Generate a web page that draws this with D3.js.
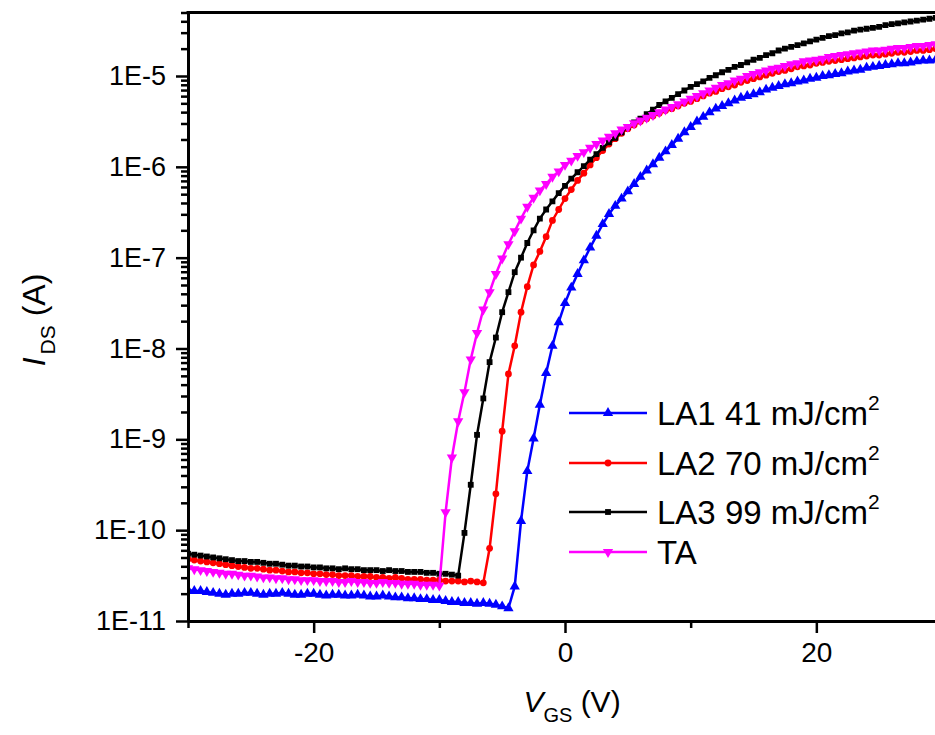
<!DOCTYPE html>
<html>
<head>
<meta charset="utf-8">
<script src="https://cdn.jsdelivr.net/npm/d3@7"></script>
<style>
  body { margin: 0; background: #fff; }
  svg text { font-family: Arial, "Liberation Sans", sans-serif; fill: #000; }
</style>
</head>
<body>
<svg width="935" height="735"></svg>
<script>
/// data: transfer curves, I_DS (A) vs V_GS (V)
var vgs = [-30,-29.5,-29,-28.5,-28,-27.5,-27,-26.5,-26,-25.5,
  -25,-24.5,-24,-23.5,-23,-22.5,-22,-21.5,-21,-20.5,
  -20,-19.5,-19,-18.5,-18,-17.5,-17,-16.5,-16,-15.5,
  -15,-14.5,-14,-13.5,-13,-12.5,-12,-11.5,-11,-10.5,
  -10,-9.5,-9,-8.5,-8,-7.5,-7,-6.5,-6,-5.5,
  -5,-4.5,-4,-3.5,-3,-2.5,-2,-1.5,-1,-0.5,
  0,0.5,1,1.5,2,2.5,3,3.5,4,4.5,
  5,5.5,6,6.5,7,7.5,8,8.5,9,9.5,
  10,10.5,11,11.5,12,12.5,13,13.5,14,14.5,
  15,15.5,16,16.5,17,17.5,18,18.5,19,19.5,
  20,20.5,21,21.5,22,22.5,23,23.5,24,24.5,
  25,25.5,26,26.5,27,27.5,28,28.5,29,29.5,
  30];

var la1 = [2.19e-11,2.14e-11,2.14e-11,2.09e-11,2.04e-11,2.00e-11,1.95e-11,2.00e-11,2.00e-11,2.04e-11,
  2.04e-11,2.00e-11,1.95e-11,2.00e-11,2.00e-11,2.04e-11,2.00e-11,1.95e-11,1.95e-11,2.00e-11,
  2.00e-11,1.95e-11,1.91e-11,1.95e-11,1.95e-11,1.91e-11,1.91e-11,1.95e-11,1.91e-11,1.86e-11,
  1.86e-11,1.91e-11,1.86e-11,1.82e-11,1.82e-11,1.78e-11,1.78e-11,1.74e-11,1.74e-11,1.70e-11,
  1.70e-11,1.66e-11,1.62e-11,1.62e-11,1.58e-11,1.58e-11,1.55e-11,1.58e-11,1.55e-11,1.51e-11,
  1.45e-11,1.38e-11,2.40e-11,1.26e-10,4.47e-10,1.02e-9,2.40e-9,5.37e-9,1.07e-8,1.95e-8,
  3.16e-8,4.68e-8,6.61e-8,9.33e-8,1.29e-7,1.74e-7,2.34e-7,3.02e-7,3.72e-7,4.47e-7,
  5.37e-7,6.46e-7,7.76e-7,9.12e-7,1.07e-6,1.26e-6,1.48e-6,1.74e-6,2.04e-6,2.40e-6,
  2.75e-6,3.16e-6,3.55e-6,3.98e-6,4.37e-6,4.68e-6,5.01e-6,5.37e-6,5.75e-6,6.03e-6,
  6.31e-6,6.61e-6,7.08e-6,7.41e-6,7.76e-6,8.13e-6,8.32e-6,8.71e-6,8.91e-6,9.33e-6,
  9.55e-6,1.00e-5,1.02e-5,1.05e-5,1.07e-5,1.12e-5,1.15e-5,1.17e-5,1.23e-5,1.26e-5,
  1.29e-5,1.32e-5,1.35e-5,1.38e-5,1.38e-5,1.41e-5,1.45e-5,1.48e-5,1.48e-5,1.51e-5,
  1.55e-5];

var la2 = [4.79e-11,4.68e-11,4.57e-11,4.47e-11,4.37e-11,4.27e-11,4.17e-11,4.07e-11,3.98e-11,3.89e-11,
  3.80e-11,3.80e-11,3.72e-11,3.63e-11,3.63e-11,3.55e-11,3.47e-11,3.47e-11,3.39e-11,3.39e-11,
  3.31e-11,3.31e-11,3.24e-11,3.24e-11,3.16e-11,3.16e-11,3.16e-11,3.09e-11,3.09e-11,3.09e-11,
  3.02e-11,3.02e-11,2.95e-11,3.02e-11,2.95e-11,2.88e-11,2.88e-11,2.88e-11,2.82e-11,2.82e-11,
  2.82e-11,2.75e-11,2.75e-11,2.75e-11,2.69e-11,2.75e-11,2.69e-11,2.63e-11,6.31e-11,2.51e-10,
  1.23e-9,5.25e-9,1.07e-8,2.51e-8,4.79e-8,8.32e-8,1.17e-7,1.70e-7,2.57e-7,3.39e-7,
  4.47e-7,5.62e-7,7.08e-7,8.51e-7,1.05e-6,1.26e-6,1.51e-6,1.78e-6,2.04e-6,2.34e-6,
  2.63e-6,2.88e-6,3.16e-6,3.39e-6,3.63e-6,3.89e-6,4.17e-6,4.37e-6,4.68e-6,5.01e-6,
  5.25e-6,5.62e-6,6.03e-6,6.46e-6,6.76e-6,7.24e-6,7.59e-6,7.94e-6,8.51e-6,8.91e-6,
  9.33e-6,9.77e-6,1.02e-5,1.07e-5,1.12e-5,1.15e-5,1.20e-5,1.26e-5,1.29e-5,1.32e-5,
  1.38e-5,1.41e-5,1.45e-5,1.48e-5,1.51e-5,1.55e-5,1.58e-5,1.62e-5,1.66e-5,1.70e-5,
  1.70e-5,1.74e-5,1.78e-5,1.82e-5,1.82e-5,1.86e-5,1.91e-5,1.91e-5,1.95e-5,2.00e-5,
  2.00e-5];

var la3 = [5.50e-11,5.37e-11,5.25e-11,5.13e-11,5.01e-11,4.90e-11,4.79e-11,4.68e-11,4.57e-11,4.57e-11,
  4.47e-11,4.47e-11,4.37e-11,4.27e-11,4.27e-11,4.17e-11,4.07e-11,4.07e-11,3.98e-11,3.98e-11,
  3.89e-11,3.89e-11,3.80e-11,3.80e-11,3.72e-11,3.80e-11,3.72e-11,3.72e-11,3.63e-11,3.63e-11,
  3.63e-11,3.55e-11,3.63e-11,3.55e-11,3.55e-11,3.47e-11,3.47e-11,3.47e-11,3.39e-11,3.39e-11,
  3.31e-11,3.31e-11,3.24e-11,3.16e-11,9.33e-11,3.16e-10,1.12e-9,2.82e-9,7.08e-9,1.32e-8,
  2.51e-8,4.17e-8,6.92e-8,1.00e-7,1.45e-7,2.00e-7,2.69e-7,3.39e-7,4.17e-7,5.13e-7,
  6.17e-7,7.41e-7,8.71e-7,1.02e-6,1.20e-6,1.38e-6,1.62e-6,1.86e-6,2.09e-6,2.40e-6,
  2.75e-6,3.09e-6,3.39e-6,3.80e-6,4.27e-6,4.79e-6,5.25e-6,5.75e-6,6.31e-6,6.92e-6,
  7.59e-6,8.13e-6,8.71e-6,9.55e-6,1.02e-5,1.10e-5,1.17e-5,1.26e-5,1.32e-5,1.41e-5,
  1.51e-5,1.58e-5,1.70e-5,1.78e-5,1.91e-5,2.00e-5,2.09e-5,2.19e-5,2.29e-5,2.40e-5,
  2.51e-5,2.63e-5,2.75e-5,2.82e-5,2.95e-5,3.02e-5,3.16e-5,3.24e-5,3.31e-5,3.39e-5,
  3.47e-5,3.63e-5,3.72e-5,3.80e-5,3.89e-5,3.98e-5,4.07e-5,4.17e-5,4.27e-5,4.37e-5,
  4.47e-5];

var ta = [3.80e-11,3.72e-11,3.63e-11,3.55e-11,3.47e-11,3.39e-11,3.31e-11,3.31e-11,3.24e-11,3.16e-11,
  3.16e-11,3.09e-11,3.02e-11,3.02e-11,2.95e-11,2.95e-11,2.88e-11,2.88e-11,2.82e-11,2.82e-11,
  2.82e-11,2.75e-11,2.75e-11,2.75e-11,2.69e-11,2.69e-11,2.75e-11,2.69e-11,2.69e-11,2.63e-11,
  2.63e-11,2.69e-11,2.63e-11,2.63e-11,2.57e-11,2.57e-11,2.57e-11,2.51e-11,2.51e-11,2.51e-11,
  2.45e-11,1.58e-10,6.31e-10,1.58e-9,3.31e-9,7.59e-9,1.48e-8,2.69e-8,4.17e-8,6.61e-8,
  9.77e-8,1.41e-7,1.95e-7,2.69e-7,3.63e-7,4.57e-7,5.50e-7,6.46e-7,7.76e-7,8.91e-7,
  1.05e-6,1.17e-6,1.32e-6,1.45e-6,1.62e-6,1.78e-6,1.95e-6,2.14e-6,2.34e-6,2.57e-6,
  2.75e-6,3.02e-6,3.24e-6,3.47e-6,3.72e-6,3.98e-6,4.27e-6,4.57e-6,4.90e-6,5.25e-6,
  5.62e-6,6.03e-6,6.46e-6,6.92e-6,7.41e-6,7.94e-6,8.32e-6,8.91e-6,9.33e-6,1.00e-5,
  1.05e-5,1.10e-5,1.15e-5,1.20e-5,1.23e-5,1.29e-5,1.35e-5,1.38e-5,1.45e-5,1.48e-5,
  1.51e-5,1.55e-5,1.62e-5,1.66e-5,1.70e-5,1.74e-5,1.78e-5,1.82e-5,1.86e-5,1.91e-5,
  1.91e-5,1.95e-5,2.00e-5,2.04e-5,2.04e-5,2.09e-5,2.14e-5,2.14e-5,2.19e-5,2.24e-5,
  2.24e-5];

var seriesLabels = ["LA1 41 mJ/cm", "LA2 70 mJ/cm", "LA3 99 mJ/cm", "TA"];
var seriesSup = ["2", "2", "2", ""];
var yTicks = [1e-11, 1e-10, 1e-9, 1e-8, 1e-7, 1e-6, 1e-5];
var yTickLabels = ["1E-11", "1E-10", "1E-9", "1E-8", "1E-7", "1E-6", "1E-5"];
var xTicks = [-20, 0, 20];
var xTickLabels = ["-20", "0", "20"];
var xMinor = [-30, -10, 10, 30];

/// layout (plot box runs past the right edge of the picture, as in the original)
var plotLeft = 188, plotRight = 942, plotTop = 12.5, plotBottom = 621;
var svg = d3.select("svg");

var x = d3.scaleLinear().domain([-30, 30]).range([plotLeft, plotRight]);
var y = d3.scaleLog().domain([1e-11, 5e-5]).range([plotBottom, plotTop]);

// minor log ticks 2..9 in each decade
var yMinor = [];
yTicks.forEach(function(d) {
  for (var k = 2; k <= 9; k++) if (d * k <= 5e-5) yMinor.push(d * k);
});

svg.append("clipPath").attr("id", "plotclip")
  .append("rect").attr("x", plotLeft).attr("y", plotTop)
  .attr("width", plotRight - plotLeft).attr("height", plotBottom - plotTop);

/// series
var series = [
  { values: la1, color: "#0000ff", symbol: d3.symbolTriangle, size: 46, rot: 0 },
  { values: la2, color: "#ff0000", symbol: d3.symbolCircle, size: 36, rot: 0 },
  { values: la3, color: "#000000", symbol: d3.symbolSquare, size: 34, rot: 0 },
  { values: ta,  color: "#ff00ff", symbol: d3.symbolTriangle, size: 46, rot: 180 }
];

var line = d3.line()
  .x(function(d) { return x(d[0]); })
  .y(function(d) { return y(d[1]); });

var plot = svg.append("g").attr("clip-path", "url(#plotclip)");

series.forEach(function(s) {
  var pts = vgs.map(function(v, i) { return [v, s.values[i]]; });
  var g = plot.append("g");
  g.append("path")
    .datum(pts)
    .attr("d", line)
    .attr("fill", "none")
    .attr("stroke", s.color)
    .attr("stroke-width", 2.5);
  g.selectAll("path.mk")
      .data(pts)
    .enter().append("path")
      .attr("class", "mk")
      .attr("d", d3.symbol().type(s.symbol).size(s.size))
      .attr("transform", function(d) {
        return "translate(" + x(d[0]) + "," + y(d[1]) + ") rotate(" + s.rot + ")";
      })
      .attr("fill", s.color);
});

/// axes
var yAxis = svg.append("g")
  .attr("transform", "translate(" + plotLeft + ",0)")
  .call(d3.axisLeft(y).tickValues(yTicks)
    .tickFormat(function(d, i) { return yTickLabels[i]; })
    .tickSize(12).tickSizeOuter(0).tickPadding(10));
yAxis.select(".domain").attr("stroke-width", 3);
yAxis.selectAll(".tick line").attr("stroke-width", 2.5);
yAxis.selectAll(".tick text").style("font-size", "27px");

var yAxisMinor = svg.append("g")
  .attr("transform", "translate(" + plotLeft + ",0)")
  .call(d3.axisLeft(y).tickValues(yMinor).tickFormat("").tickSize(7).tickSizeOuter(0));
yAxisMinor.select(".domain").remove();
yAxisMinor.selectAll(".tick line").attr("stroke-width", 2.5);

var xAxis = svg.append("g")
  .attr("transform", "translate(0," + plotBottom + ")")
  .call(d3.axisBottom(x).tickValues(xTicks)
    .tickFormat(function(d, i) { return xTickLabels[i]; })
    .tickSize(12).tickSizeOuter(0).tickPadding(9));
xAxis.select(".domain").attr("stroke-width", 3);
xAxis.selectAll(".tick line").attr("stroke-width", 2.5);
xAxis.selectAll(".tick text").style("font-size", "28px");

var xAxisMinor = svg.append("g")
  .attr("transform", "translate(0," + plotBottom + ")")
  .call(d3.axisBottom(x).tickValues(xMinor).tickFormat("").tickSize(7).tickSizeOuter(0));
xAxisMinor.select(".domain").remove();
xAxisMinor.selectAll(".tick line").attr("stroke-width", 2.5);

// top frame line
svg.append("line")
  .attr("x1", plotLeft - 1.5).attr("x2", plotRight)
  .attr("y1", plotTop).attr("y2", plotTop)
  .attr("stroke", "#000").attr("stroke-width", 3);

/// axis titles
var yTitle = svg.append("text")
  .attr("transform", "translate(45,320) rotate(-90)")
  .attr("text-anchor", "middle")
  .style("font-size", "32px");
yTitle.append("tspan").style("font-style", "italic").text("I");
yTitle.append("tspan").attr("dx", 3).attr("dy", 10).style("font-size", "21px").text("DS");
yTitle.append("tspan").attr("dy", -10).text(" (A)");

var xTitle = svg.append("text")
  .attr("x", 572).attr("y", 712)
  .attr("text-anchor", "middle")
  .style("font-size", "30px");
xTitle.append("tspan").style("font-style", "italic").text("V");
xTitle.append("tspan").attr("dy", 10).style("font-size", "20px").text("GS");
xTitle.append("tspan").attr("dy", -10).text(" (V)");

/// legend
var legendY = [413, 463, 512, 552];
var legend = svg.append("g");
series.forEach(function(s, i) {
  var ly = legendY[i];
  legend.append("line")
    .attr("x1", 569).attr("x2", 647)
    .attr("y1", ly).attr("y2", ly)
    .attr("stroke", s.color).attr("stroke-width", 2.5);
  legend.append("path")
    .attr("d", d3.symbol().type(s.symbol).size(s.size))
    .attr("transform", "translate(608," + ly + ") rotate(" + s.rot + ")")
    .attr("fill", s.color);
  var t = legend.append("text")
    .attr("x", 657).attr("y", ly + 12)
    .style("font-size", "33px");
  t.append("tspan").text(seriesLabels[i]);
  if (seriesSup[i]) {
    t.append("tspan").attr("dy", -15).style("font-size", "21px").text(seriesSup[i]);
  }
});
</script>
</body>
</html>
